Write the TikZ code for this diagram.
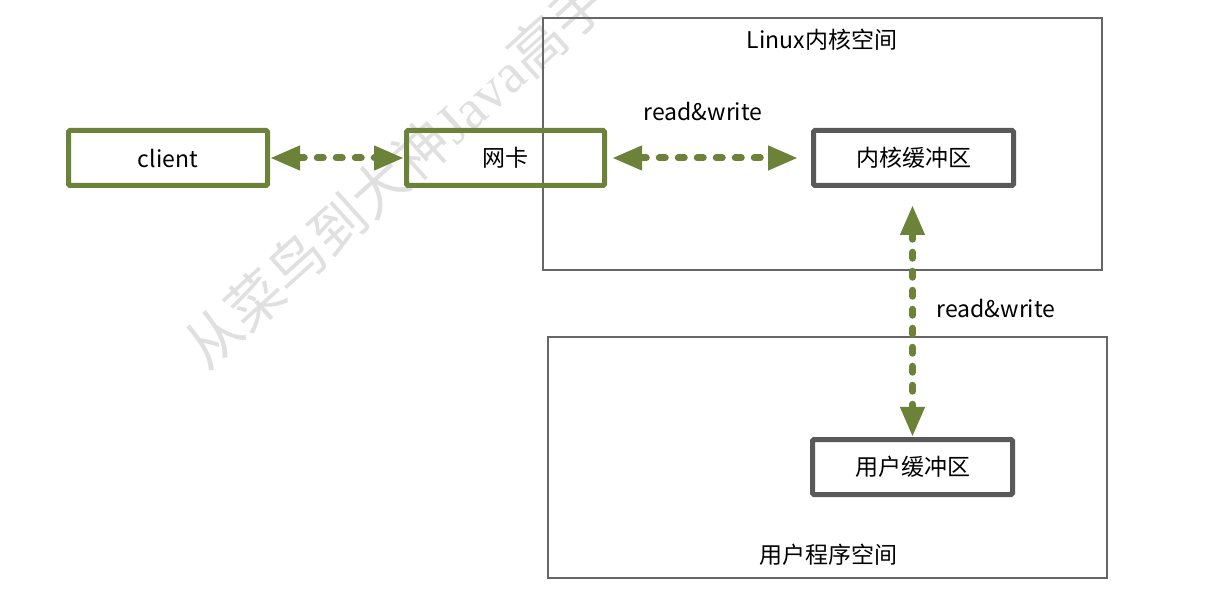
\documentclass[tikz,border=0pt]{standalone}
\usepackage{fontspec}
\setmainfont{Noto Sans CJK SC}
\newfontfamily\wmserif{Liberation Serif}
\usetikzlibrary{arrows.meta}
\definecolor{olive}{HTML}{6B8238}
\definecolor{darkbox}{HTML}{595959}
\definecolor{frame}{HTML}{666666}
\definecolor{wm}{HTML}{E0E0E0}
\tikzset{
  gbox/.style={draw=olive, line width=5pt, rounded corners=1.5pt, minimum height=55pt, inner sep=0pt, font=\fontsize{23pt}{26pt}\selectfont},
  kbox/.style={draw=darkbox, line width=5pt, rounded corners=1.5pt, minimum width=200pt, minimum height=55pt, inner sep=0pt, font=\fontsize{23pt}{26pt}\selectfont},
  space/.style={draw=frame, line width=2.2pt, inner sep=0pt},
  lbl/.style={font=\fontsize{23pt}{26pt}\selectfont, inner sep=0pt},
  conn/.style={draw=olive, line width=7pt, line cap=round, dash pattern=on 6pt off 13pt,
    {Triangle[length=30pt,width=23pt]}-{Triangle[length=30pt,width=23pt]}},
  watermark/.style={font=\fontsize{56pt}{60pt}\selectfont, text=wm, rotate=42, anchor=west, inner sep=0pt}
}
\begin{document}
\begin{tikzpicture}[x=1pt,y=-1pt]
\useasboundingbox (0,0) rectangle (1221,609);
% watermark
\node[watermark] (wmark) at (192,356) {从菜鸟到大神{\wmserif Java}高手};
% spaces
\node[space, minimum width=559pt, minimum height=252pt] (kspace) at (822.5,144) {};
\node[space, minimum width=559pt, minimum height=241pt] (uspace) at (827.5,457.5) {};
\node[lbl] (klabel) at (822,40) {Linux内核空间};
\node[lbl] (ulabel) at (828,555) {用户程序空间};
% boxes
\node[gbox, minimum width=199pt, fill=white] (client) at (168,158) {client};
\node[gbox, minimum width=198pt] (nic) at (505.5,158) {网卡};
\node[kbox, fill=white] (kbuf) at (913.5,158) {内核缓冲区};
\node[kbox, fill=white] (ubuf) at (912.5,467) {用户缓冲区};
% connectors
\draw[conn] (client.east) -- (nic.west);
\draw[conn, shorten <=5pt, shorten >=13pt] (nic.east) -- (kbuf.west);
\draw[conn, shorten <=17pt] (kbuf.south -| ubuf.north) -- (ubuf.north);
% labels
\node[lbl] (rw1) at (703,111) {read\&write};
\node[lbl] (rw2) at (996,308) {read\&write};
\end{tikzpicture}
\end{document}
